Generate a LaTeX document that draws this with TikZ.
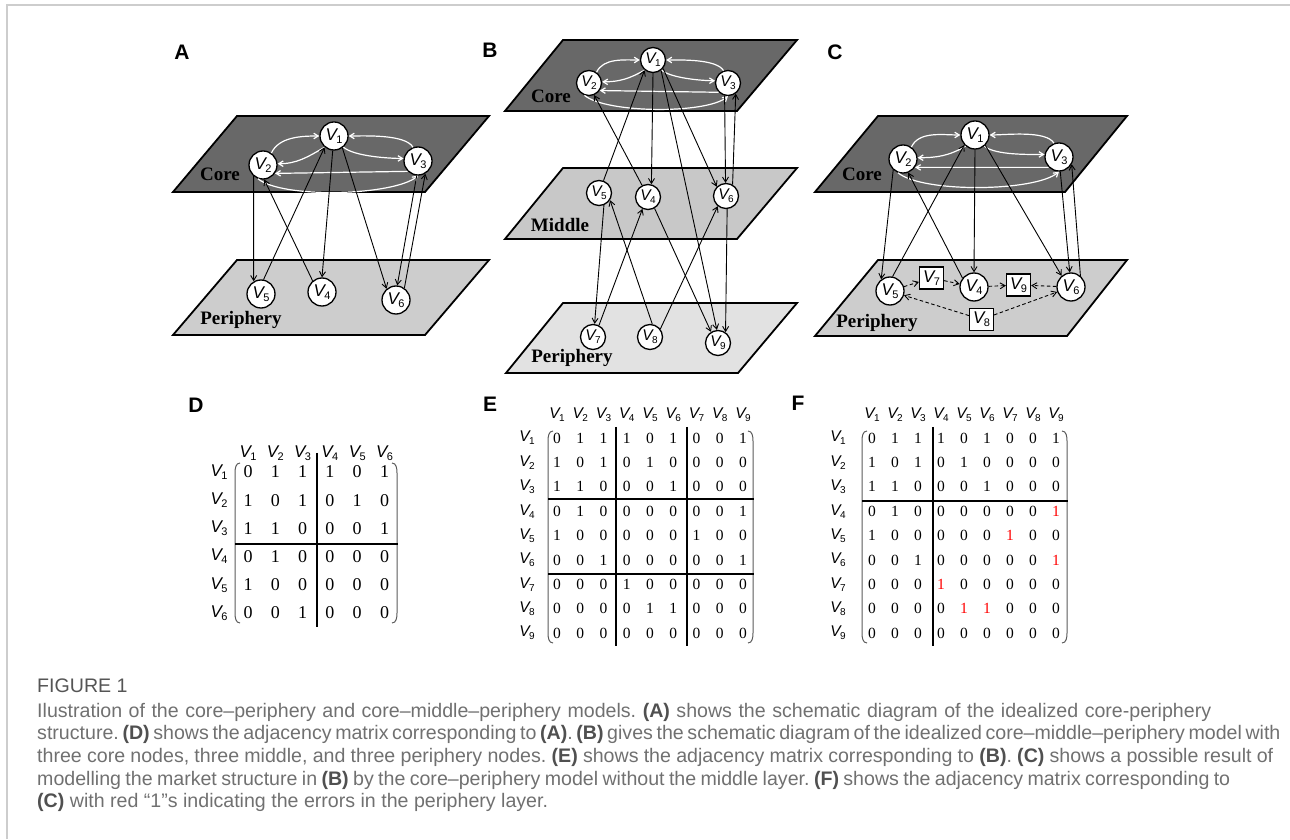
\documentclass[tikz,border=0pt]{standalone}
\usepackage{fontspec}
\setmainfont{Liberation Serif}
\setsansfont{Liberation Sans}
\newfontfamily\capfont{Liberation Sans}
\usetikzlibrary{arrows.meta}

\definecolor{coregray}{RGB}{104,104,104}
\definecolor{midgray}{RGB}{200,200,200}
\definecolor{perigray}{RGB}{205,205,205}
\definecolor{perilight}{RGB}{226,226,226}
\definecolor{framegray}{RGB}{205,205,205}
\definecolor{captext}{RGB}{112,112,112}
\definecolor{capbold}{RGB}{80,80,80}
\definecolor{parengray}{RGB}{90,90,90}

% vertex labels: italic V with an upright index
\newcommand\nV[1]{{\fontsize{17}{17}\selectfont\sffamily\itshape V}\kern-0.6pt\raisebox{-3pt}{\fontsize{11}{11}\selectfont\sffamily #1}}
\newcommand\nVs[1]{{\fontsize{15.5}{15.5}\selectfont\sffamily\itshape V}\kern-0.6pt\raisebox{-3pt}{\fontsize{10}{10}\selectfont\sffamily #1}}
\newcommand\mV[1]{{\fontsize{17}{17}\selectfont\sffamily\itshape V}\kern-0.6pt\raisebox{-3pt}{\fontsize{11}{11}\selectfont\sffamily #1}}
\newcommand\mVe[1]{{\fontsize{15.5}{15.5}\selectfont\sffamily\itshape V}\kern-0.6pt\raisebox{-3pt}{\fontsize{10}{10}\selectfont\sffamily #1}}
\newcommand\rr{\textcolor{red}{1}}
\newcommand\cb[1]{\textcolor{capbold}{\bfseries #1}}

% two-way white links between the three core vertices
\newcommand\corearcs[1]{%
  \draw[wa] (#1v2.55) to[out=65,in=180,looseness=0.9] (#1v1.180);
  \draw[wa] (#1v1.-130) to[out=-150,in=0] (#1v2.5);
  \draw[wa] (#1v3.110) to[out=120,in=0,looseness=0.6] (#1v1.0);
  \draw[wa] (#1v1.-50) to[out=-40,in=180,looseness=0.6] (#1v3.170);
  \draw[wa] (#1v3.-135) -- (#1v2.-35);
  \draw[wa] (#1v2.-110) to[out=-40,in=-140,looseness=0.5] (#1v3.-90);
}

\tikzset{
  plane/.style={draw=black, line width=1.8pt, line join=miter},
  nd/.style={circle, draw=black, fill=white, line width=1.3pt, minimum size=28pt, inner sep=0pt},
  ndb/.style={nd, minimum size=25pt},
  sq/.style={draw=black, fill=white, line width=1.2pt, minimum width=24pt, minimum height=22pt, inner sep=0pt},
  ba/.style={draw=black, line width=0.9pt, -{Straight Barb[length=5pt,width=6pt]}},
  da/.style={ba, dash pattern=on 3.5pt off 2.5pt},
  wa/.style={draw=white, line width=1.2pt, -{Straight Barb[length=4.5pt,width=5.5pt]}},
  lbl/.style={font=\fontsize{19}{19}\selectfont\bfseries, inner sep=0pt},
  panel/.style={font=\fontsize{21}{21}\selectfont\sffamily\bfseries, inner sep=0pt},
  hd/.style={inner sep=0pt},
  cellD/.style={font=\fontsize{18}{18}\selectfont, inner sep=0pt},
  cellE/.style={font=\fontsize{15.5}{15.5}\selectfont, inner sep=0pt},
  matrule/.style={draw=black, line width=1.8pt},
  paren/.style={draw=parengray, line width=1pt},
  captxt/.style={font=\capfont\fontsize{19.6}{19.6}\selectfont\frenchspacing, text=captext, inner sep=0pt, anchor=base west},
}

\begin{document}
\begin{tikzpicture}[x=1pt,y=1pt]
\useasboundingbox (0,0) rectangle (1290,839);
\draw[framegray, line width=1.5pt] (7,0) -- (7,834) -- (1290,834);

% ---------------- panel A ----------------
\node[panel] (lA) at (182,787) {A};
\filldraw[plane, fill=coregray] (173,647) -- (425,647) -- (489,723) -- (237,723) -- cycle;
\filldraw[plane, fill=perigray] (173,504) -- (425,504) -- (489,579) -- (237,579) -- cycle;
\node[lbl] (acore) at (220,665) {Core};
\node[lbl] (aperi) at (241,519) {Periphery};
\node[nd] (av1) at (334,703) {\nV{1}};
\node[nd] (av2) at (263,674) {\nV{2}};
\node[nd] (av3) at (418,678) {\nV{3}};
\node[nd] (av5) at (261,545) {\nV{5}};
\node[nd] (av4) at (322,547) {\nV{4}};
\node[nd] (av6) at (396,539) {\nV{6}};
\corearcs{a}
\draw[ba] (av2.-130) -- (av5.120);
\draw[ba] (av5.80) -- (av1.-130);
\draw[ba] (av4.130) -- (av2.-85);
\draw[ba] (av1.-95) -- (av4.90);
\draw[ba] (av1.-55) -- (av6.130);
\draw[ba] (av3.-95) -- (av6.85);
\draw[ba] (av6.55) -- (av3.-60);

% ---------------- panel B ----------------
\node[panel] (lB) at (490,789) {B};
\filldraw[plane, fill=coregray] (505,728) -- (737,728) -- (797,799) -- (563,799) -- cycle;
\filldraw[plane, fill=midgray] (505,600) -- (737,600) -- (797,671) -- (563,671) -- cycle;
\filldraw[plane, fill=perilight] (506,466) -- (738,466) -- (797,536) -- (563,536) -- cycle;
\node[lbl] (bcore) at (551,743) {Core};
\node[lbl] (bmid) at (560,614) {Middle};
\node[lbl] (bperi) at (572,481) {Periphery};
\node[ndb] (bv1) at (653,779) {\nVs{1}};
\node[ndb] (bv2) at (589,756) {\nVs{2}};
\node[ndb] (bv3) at (728,756) {\nVs{3}};
\node[ndb] (bv5) at (599,646) {\nVs{5}};
\node[ndb] (bv4) at (648,642) {\nVs{4}};
\node[ndb] (bv6) at (726,643) {\nVs{6}};
\node[ndb] (bv7) at (593,502) {\nVs{7}};
\node[ndb] (bv8) at (650,502) {\nVs{8}};
\node[ndb] (bv9) at (718,496) {\nVs{9}};
\corearcs{b}
\draw[ba] (bv5.70) -- (bv1.-130);
\draw[ba] (bv4.117) -- (bv2.-67);
\draw[ba] (bv1.-90) -- (bv4.75);
\draw[ba] (bv1.-40) -- (bv6.135);
\draw[ba] (bv1.-52) -- (bv9.95);
\draw[ba] (bv3.-105) -- (bv6.92);
\draw[ba] (bv6.60) -- (bv3.-54);
\draw[ba] (bv5.-68) -- (bv7.83);
\draw[ba] (bv7.63) -- (bv4.-115);
\draw[ba] (bv8.80) -- (bv5.-33);
\draw[ba] (bv8.38) -- (bv6.-129);
\draw[ba] (bv4.-60) -- (bv9.122);
\draw[ba] (bv6.-85) -- (bv9.55);

% ---------------- panel C ----------------
\node[panel] (lC) at (835,787) {C};
\filldraw[plane, fill=coregray] (815,647) -- (1065,647) -- (1127,723) -- (878,723) -- cycle;
\filldraw[plane, fill=perigray] (815,503) -- (1067,503) -- (1127,579) -- (878,579) -- cycle;
\node[lbl] (ccore) at (862,665) {Core};
\node[lbl] (cperi) at (877,516) {Periphery};
\node[nd] (cv1) at (975,704) {\nV{1}};
\node[nd] (cv2) at (903,680) {\nV{2}};
\node[nd] (cv3) at (1059,682) {\nV{3}};
\node[nd] (cv5) at (890,548) {\nV{5}};
\node[nd] (cv4) at (974,552) {\nV{4}};
\node[nd] (cv6) at (1071,552) {\nV{6}};
\node[sq] (cv7) at (931.5,561) {\nV{7}};
\node[sq] (cv9) at (1018.5,554) {\nV{9}};
\node[sq] (cv8) at (981.5,519.5) {\nV{8}};
\corearcs{c}
\draw[ba] (cv2.-132) -- (cv5.127);
\draw[ba] (cv5.80) -- (cv1.-137);
\draw[ba] (cv4.142) -- (cv2.-69);
\draw[ba] (cv1.-90) -- (cv4.90);
\draw[ba] (cv1.-45) -- (cv6.130);
\draw[ba] (cv3.-85) -- (cv6.95);
\draw[ba] (cv6.50) -- (cv3.-30);
\draw[da] (cv5) -- (cv7);
\draw[da] (cv7) -- (cv4);
\draw[da] (cv4) -- (cv9);
\draw[da] (cv6) -- (cv9);
\draw[da] (cv8) -- (cv5);
\draw[da] (cv8) -- (cv6);

% ---------------- matrix D ----------------
\node[panel] (lD) at (196,434) {D};
\foreach \c in {1,...,6} \node[hd] (dh\c) at ({248+27.3*(\c-1)},386) {\mV{\c}};
\foreach \r in {1,...,6} \node[hd] (dr\r) at (219,{367-28.2*(\r-1)}) {\mV{\r}};
\foreach \row [count=\r] in {{0,1,1,1,0,1},{1,0,1,0,1,0},{1,1,0,0,0,1},{0,1,0,0,0,0},{1,0,0,0,0,0},{0,0,1,0,0,0}}
  \foreach \v [count=\c] in \row
    \node[cellD] (d\r-\c) at ({248+27.3*(\c-1)},{367-28.2*(\r-1)}) {\v};
\draw[paren] (240,376) to[out=180,in=90] (235,366) -- (235,226) to[out=-90,in=180] (240,216);
\draw[paren] (392,376) to[out=0,in=90] (397,366) -- (397,226) to[out=-90,in=0] (392,216);
\draw[matrule] (317,386) -- (317,212);
\draw[matrule] (235,295) -- (398,295);

% ---------------- matrix E ----------------
\node[panel] (lE) at (490,435) {E};
\foreach \c in {1,...,9} \node[hd] (eh\c) at ({557+23.25*(\c-1)},424) {\mVe{\c}};
\foreach \r in {1,...,9} \node[hd] (er\r) at (527,{401-24.4*(\r-1)}) {\mVe{\r}};
\foreach \row [count=\r] in {{0,1,1,1,0,1,0,0,1},{1,0,1,0,1,0,0,0,0},{1,1,0,0,0,1,0,0,0},{0,1,0,0,0,0,0,0,1},{1,0,0,0,0,0,1,0,0},{0,0,1,0,0,0,0,0,1},{0,0,0,1,0,0,0,0,0},{0,0,0,0,1,1,0,0,0},{0,0,0,0,0,0,0,0,0}}
  \foreach \v [count=\c] in \row
    \node[cellE] (e\r-\c) at ({557+23.25*(\c-1)},{401-24.4*(\r-1)}) {\v};
\draw[paren] (553,408) to[out=180,in=90] (548,398) -- (548,206) to[out=-90,in=180] (553,196);
\draw[paren] (748,408) to[out=0,in=90] (753,398) -- (753,206) to[out=-90,in=0] (748,196);
\draw[matrule] (616,412) -- (616,193);
\draw[matrule] (687,412) -- (687,193);
\draw[matrule] (548,340) -- (754,340);
\draw[matrule] (548,265) -- (754,265);

% ---------------- matrix F ----------------
\node[panel] (lF) at (798,436) {F};
\foreach \c in {1,...,9} \node[hd] (fh\c) at ({872+23*(\c-1)},424) {\mVe{\c}};
\foreach \r in {1,...,9} \node[hd] (fr\r) at (838,{401-24.4*(\r-1)}) {\mVe{\r}};
\foreach \row [count=\r] in {{0,1,1,1,0,1,0,0,1},{1,0,1,0,1,0,0,0,0},{1,1,0,0,0,1,0,0,0},{0,1,0,0,0,0,0,0,\rr},{1,0,0,0,0,0,\rr,0,0},{0,0,1,0,0,0,0,0,\rr},{0,0,0,\rr,0,0,0,0,0},{0,0,0,0,\rr,\rr,0,0,0},{0,0,0,0,0,0,0,0,0}}
  \foreach \v [count=\c] in \row
    \node[cellE] (f\r-\c) at ({872+23*(\c-1)},{401-24.4*(\r-1)}) {\v};
\draw[paren] (867,408) to[out=180,in=90] (862,398) -- (862,206) to[out=-90,in=180] (867,196);
\draw[paren] (1062,408) to[out=0,in=90] (1067,398) -- (1067,206) to[out=-90,in=0] (1062,196);
\draw[matrule] (933,412) -- (933,193);
\draw[matrule] (862,338) -- (1068,338);

% ---------------- caption ----------------
\node[captxt, text=capbold!85!captext] (cap0) at (37,147) {FIGURE 1};
\node[captxt] (cap1) at (37,122) {\makebox[1174pt][s]{Ilustration of the core–periphery and core–middle–periphery models. \cb{(A)} shows the schematic diagram of the idealized core-periphery}};
\node[captxt] (cap2) at (37,99.3) {\makebox[1236pt][s]{structure. \cb{(D)} shows the adjacency matrix corresponding to \cb{(A)}. \cb{(B)} gives the schematic diagram of the idealized core–middle–periphery model with}};
\node[captxt] (cap3) at (37,76.6) {\makebox[1236pt][s]{three core nodes, three middle, and three periphery nodes. \cb{(E)} shows the adjacency matrix corresponding to \cb{(B)}. \cb{(C)} shows a possible result of}};
\node[captxt] (cap4) at (37,53.9) {\makebox[1193pt][s]{modelling the market structure in \cb{(B)} by the core–periphery model without the middle layer. \cb{(F)} shows the adjacency matrix corresponding to}};
\node[captxt] (cap5) at (37,31.2) {\cb{(C)} with red “1”s indicating the errors in the periphery layer.};
\end{tikzpicture}
\end{document}
